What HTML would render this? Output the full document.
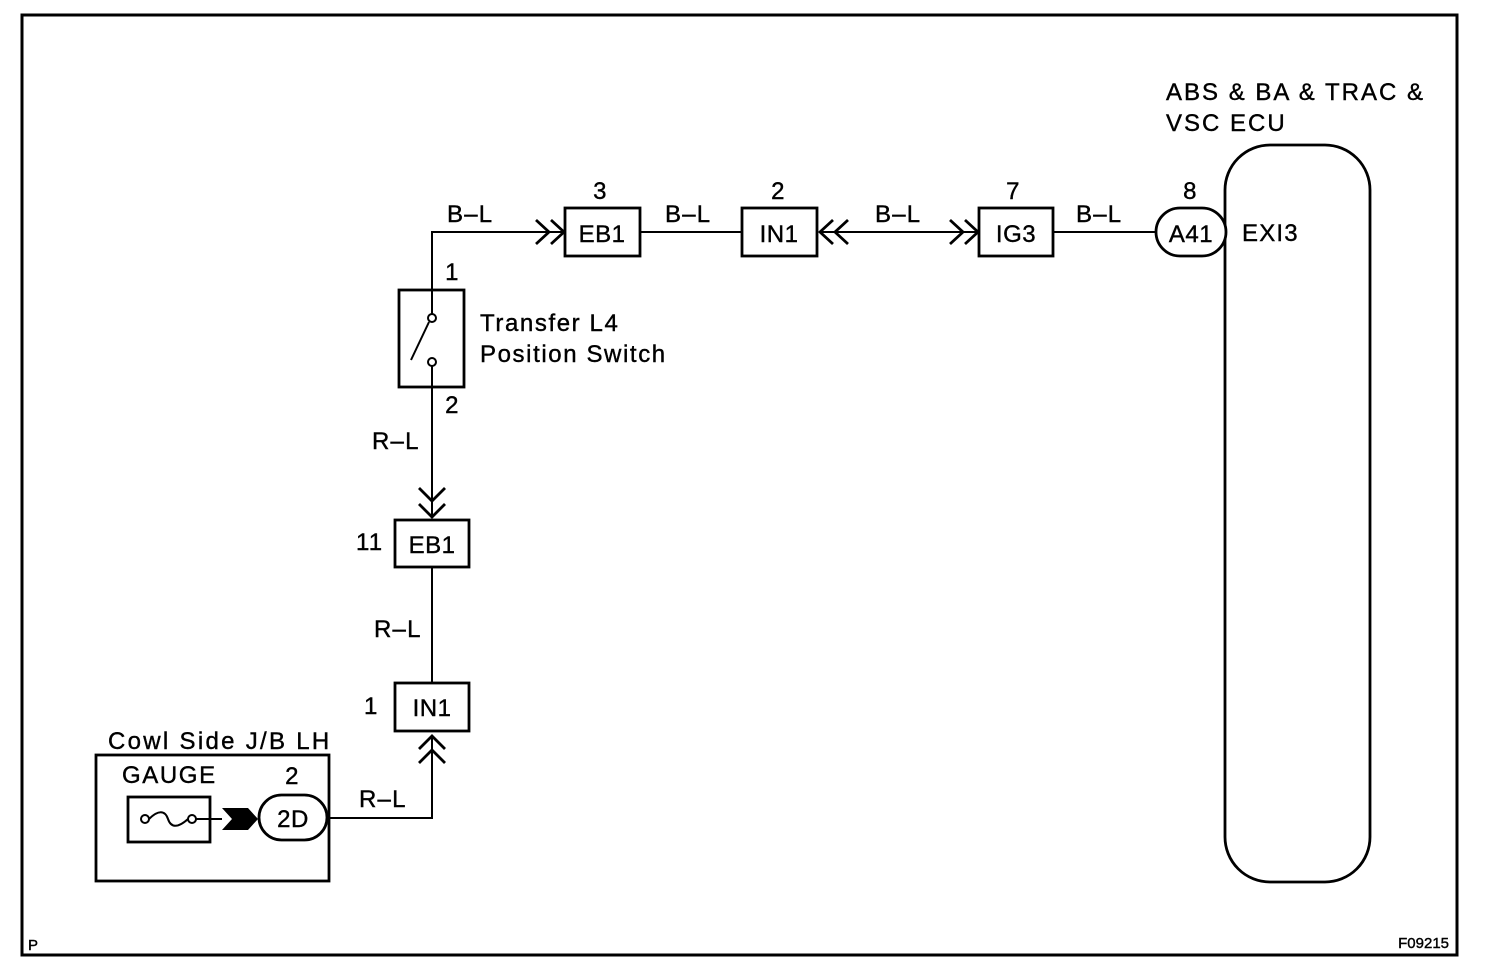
<!DOCTYPE html>
<html><head><meta charset="utf-8"><style>
html,body{margin:0;padding:0;background:#fff;}
svg{display:block;}
text{font-family:"Liberation Sans",Arial,sans-serif;fill:#000;stroke:#000;stroke-width:0.4;}
</style></head><body>
<svg width="1504" height="978" viewBox="0 0 1504 978" xmlns="http://www.w3.org/2000/svg">
<rect x="22" y="15" width="1435" height="940" fill="none" stroke="#000" stroke-width="3"/>
<text x="28" y="950" font-size="15">P</text>
<text x="1449" y="948" font-size="15" text-anchor="end">F09215</text>

<g fill="none" stroke="#000" stroke-width="2">
<polyline points="432,290 432,232 562,232"/>
<line x1="640" y1="232" x2="742" y2="232"/>
<line x1="820" y1="232" x2="977" y2="232"/>
<line x1="1053" y1="232" x2="1157" y2="232"/>
<line x1="432" y1="387" x2="432" y2="518"/>
<line x1="432" y1="567" x2="432" y2="683"/>
<polyline points="329,818 432,818 432,738"/>
</g>
<g fill="none" stroke="#000" stroke-width="2.8">
<polyline points="536,220 549,232 536,244"/>
<polyline points="551,220 564,232 551,244"/>
<polyline points="833,220 820,232 833,244"/>
<polyline points="848,220 835,232 848,244"/>
<polyline points="950,220 963,232 950,244"/>
<polyline points="965,220 978,232 965,244"/>
<polyline points="419,488 432,501 445,488"/>
<polyline points="419,504 432,517 445,504"/>
<polyline points="419,749 432,736 445,749"/>
<polyline points="419,763 432,750 445,763"/>
</g>

<g fill="#fff" stroke="#000" stroke-width="2.8">
<rect x="565" y="208" width="75" height="48"/>
<rect x="742" y="208" width="75" height="48"/>
<rect x="979" y="208" width="74" height="48"/>
<rect x="1225" y="145" width="145" height="737" rx="45"/>
<rect x="1156" y="208" width="70" height="48" rx="24"/>
<rect x="399" y="290" width="65" height="97"/>
<rect x="395" y="520" width="74" height="47"/>
<rect x="395" y="683" width="74" height="48"/>
<rect x="96" y="755" width="233" height="126"/>
<rect x="128" y="797" width="82" height="45"/>
<rect x="259" y="795" width="68" height="45" rx="22.5"/>
</g>

<g fill="none" stroke="#000" stroke-width="2">
<line x1="432" y1="290" x2="432" y2="314"/>
<circle cx="432" cy="318" r="4" fill="#fff"/>
<circle cx="432" cy="362" r="4" fill="#fff"/>
<line x1="432" y1="366" x2="432" y2="387"/>
<line x1="429" y1="322" x2="411" y2="360"/>
<circle cx="145" cy="819" r="4"/>
<circle cx="192" cy="819" r="4"/>
<path d="M149,819 C158,810 165,810 168,819 C171,828 178,828 188,819"/>
<line x1="196" y1="819" x2="222" y2="819"/>
</g>
<polygon points="222,808 248,808 258,819 248,830 222,830 232,819" fill="#000"/>

<g font-size="24" text-anchor="middle" letter-spacing="0.5">
<text x="602" y="242">EB1</text>
<text x="779" y="242">IN1</text>
<text x="1016" y="242">IG3</text>
<text x="1191" y="242">A41</text>
<text x="432" y="553">EB1</text>
<text x="432" y="716">IN1</text>
<text x="293" y="827">2D</text>
<text x="600" y="199">3</text>
<text x="778" y="199">2</text>
<text x="1013" y="199">7</text>
<text x="1190" y="199">8</text>
<text x="452" y="280">1</text>
<text x="452" y="413">2</text>
<text x="292" y="784">2</text>
</g>
<g font-size="24" letter-spacing="1.2">
<text x="447" y="222">B–L</text>
<text x="665" y="222">B–L</text>
<text x="875" y="222">B–L</text>
<text x="1076" y="222">B–L</text>
<text x="1242" y="241">EXI3</text>
<text x="1166" y="100" letter-spacing="2">ABS &amp; BA &amp; TRAC &amp;</text>
<text x="1166" y="131" letter-spacing="2">VSC ECU</text>
<text x="480" y="331" letter-spacing="1.6">Transfer L4</text>
<text x="480" y="362" letter-spacing="1.6">Position Switch</text>
<text x="372" y="449">R–L</text>
<text x="374" y="637">R–L</text>
<text x="359" y="807">R–L</text>
<text x="356" y="550">11</text>
<text x="364" y="714">1</text>
<text x="108" y="749" letter-spacing="2.3">Cowl Side J/B LH</text>
<text x="122" y="783" letter-spacing="1.6">GAUGE</text>
</g>
</svg>
</body></html>
